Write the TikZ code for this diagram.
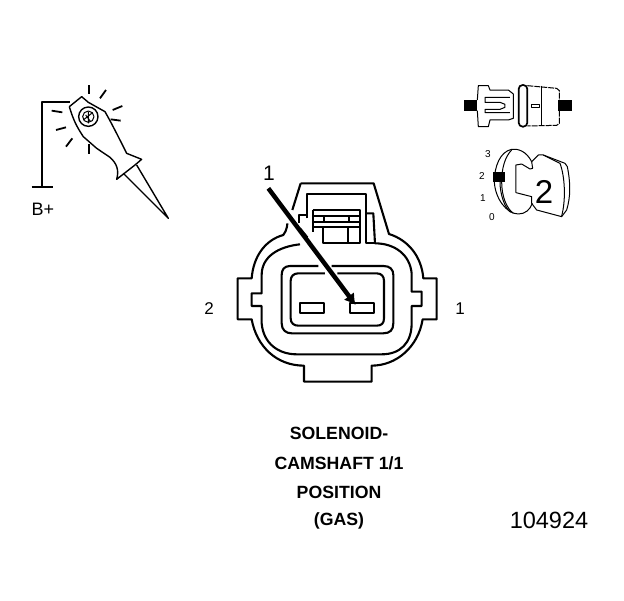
\documentclass[tikz,border=0pt]{standalone}
\usepackage{fontspec}
\usetikzlibrary{arrows.meta}
\setmainfont{Liberation Sans}
\tikzset{ConLine/.style={line width=2.1pt, line join=round},
  ThinLine/.style={line width=1.4pt, line join=round},
  IconLine/.style={line width=1pt, line join=round},
  LabelStyle/.style={inner sep=0pt, font=\fontsize{18}{18}\selectfont},
  TitleStyle/.style={inner sep=0pt, font=\fontsize{17.7}{17.7}\selectfont\bfseries},
  TickStyle/.style={inner sep=0pt, font=\fontsize{10}{10}\selectfont}}
\begin{document}
\begin{tikzpicture}[x=1pt, y=-1pt]
  \useasboundingbox (0,0) rectangle (624,600);

  % probe
  \begin{scope}[shift={(20,70)}, x=0.3333pt, y=-0.3333pt]
    \draw[ThinLine, line width=1.8pt] (150,95) -- (65,95) -- (65,350);
    \draw[ThinLine, line width=1.8pt] (35,350) -- (100,350);
    \draw[ThinLine] (148,110) -- (185,80) -- (205,97) -- (255,125)
      .. controls (275,160) and (300,210) .. (320,250)
      -- (365,268) -- (345,285) -- (290,328)
      .. controls (298,300) and (290,280) .. (270,262)
      -- (230,235) -- (190,200) .. controls (170,170) and (160,150) .. (148,110);
    \draw[ThinLine] (310,310) -- (445,445) -- (350,285);
    \draw[ThinLine] (205,140) circle (29);
    \draw[IconLine] (205,140) circle (17);
    \draw[IconLine] (190,150) -- (215,130) (197,135) -- (212,155) (205,125) -- (205,160);
    \foreach \xa/\ya/\xb/\yb in {207/45/207/72, 258/60/240/85, 307/108/278/120,
      302/152/272/148, 127/127/95/122, 138/172/108/180, 157/205/138/230, 207/222/207/252}
      \draw[line width=1.8pt] (\xa,\ya) -- (\xb,\yb);
  \end{scope}
  \node[LabelStyle] (bplus) at (43,209) {B+};

  % connector views
  \begin{scope}[shift={(450,70)}, x=0.3333pt, y=-0.3333pt]
    \fill[black] (42,90) rectangle (82,122);
    \fill[black] (325,90) rectangle (365,122);
    \draw[IconLine] (82,90) -- (85,47) -- (115,47) -- (120,60) -- (175,60) -- (190,72)
      -- (190,145) -- (175,150) -- (120,150) -- (115,170) -- (85,170) -- (82,122);
    \draw[IconLine] (180,82) -- (105,82) -- (105,97) -- (150,97) -- (165,103) -- (165,112)
      -- (150,118) -- (105,118) -- (105,128) -- (180,128);
    \draw[line width=1.7pt, rounded corners=4pt] (206,45) rectangle (232,170);
    \draw[IconLine, dash pattern=on 6pt off 1pt] (232,47) -- (320,55) -- (328,62) -- (328,90);
    \draw[IconLine, dash pattern=on 6pt off 1pt] (328,122) -- (328,160) -- (320,166) -- (232,168);
    \draw[IconLine] (275,47) -- (275,165);
    \draw[IconLine] (245,103) rectangle (270,112);
    % key
    \draw[IconLine] (245,275) .. controls (230,245) and (205,235) .. (185,238)
      .. controls (150,245) and (133,290) .. (133,335)
      .. controls (135,385) and (170,432) .. (205,432)
      .. controls (225,432) and (240,420) .. (247,400);
    \draw[IconLine] (185,240) .. controls (165,260) and (155,295) .. (155,335)
      .. controls (155,380) and (170,415) .. (190,430);
    \draw[IconLine] (150,335) .. controls (150,375) and (165,415) .. (182,427);
    \draw[IconLine] (198,285) -- (198,368) -- (245,380) -- (245,400) -- (260,420) -- (335,440)
      -- (350,420) .. controls (362,380) and (362,340) .. (352,290) -- (345,280) -- (280,255)
      -- (265,255) -- (245,275) -- (248,295) -- (240,297) -- (215,282) -- cycle;
    \draw[IconLine] (280,255) -- (330,280) .. controls (345,320) and (348,390) .. (335,438);
    \fill[black] (130,307) rectangle (165,335);
  \end{scope}
  \node[inner sep=0pt, font=\fontsize{33}{33}\selectfont] (keynum) at (544,192) {2};
  \node[TickStyle] (tick3) at (488,154) {3};
  \node[TickStyle] (tick2) at (482,176) {2};
  \node[TickStyle] (tick1) at (483,198) {1};
  \node[TickStyle] (tick0) at (492,217) {0};

  % connector
  \begin{scope}[shift={(200,160)}, x=0.3333pt, y=-0.3333pt]
    \draw[ConLine] (302,70) -- (521,70) -- (567,222)
      .. controls (625,240) and (665,290) .. (670,355)
      -- (710,355) -- (710,478) -- (668,478)
      .. controls (655,560) and (590,617) .. (515,617)
      -- (515,665) -- (312,665) -- (312,617)
      .. controls (230,617) and (170,560) .. (155,478)
      -- (113,478) -- (113,355) -- (155,355)
      .. controls (160,290) and (195,240) .. (250,225)
      .. controls (262,210) and (262,190) .. (262,190);
    \draw[ConLine] (302,70) -- (277,150);
    \draw[ConLine] (300,253) .. controls (235,260) and (185,290) .. (185,345)
      -- (185,400) -- (155,400) -- (155,438) -- (185,438) -- (185,490)
      .. controls (190,550) and (235,583) .. (290,583) -- (545,583)
      .. controls (600,583) and (635,550) .. (635,490)
      -- (635,438) -- (665,438) -- (665,395) -- (635,395) -- (635,340)
      .. controls (630,285) and (585,250) .. (525,250) -- (520,160) -- (497,160);
    \draw[ConLine] (322,175) -- (322,103) -- (497,103) -- (497,250) -- (525,250);
    \draw[ConLine] (298,190) -- (298,165) -- (318,165);
    \draw[ConLine] (300,205) -- (322,232);
    % latch
    \draw[ConLine] (338,150) -- (480,150) -- (480,250) -- (370,250) -- (370,200);
    \draw[ConLine] (338,215) -- (338,150);
    \draw[ConLine] (338,167) -- (480,167) (338,185) -- (480,185) (338,202) -- (480,202);
    \draw[ConLine] (445,202) -- (445,250) (372,167) -- (372,185) (447,167) -- (447,185);
    % shells and contacts
    \draw[ConLine] (355,318) -- (270,318) .. controls (252,318) and (245,330) .. (245,345)
      -- (245,490) .. controls (245,510) and (258,520) .. (275,520) -- (550,520)
      .. controls (570,520) and (580,510) .. (580,490) -- (580,345)
      .. controls (580,328) and (570,318) .. (550,318) -- (395,318);
    \draw[ConLine] (375,340) -- (295,340) .. controls (280,340) and (272,350) .. (272,362)
      -- (272,475) .. controls (272,490) and (282,497) .. (295,497) -- (530,497)
      .. controls (545,497) and (552,490) .. (552,475) -- (552,362)
      .. controls (552,350) and (545,340) .. (530,340) -- (412,340);
    \draw[ConLine] (300,428) rectangle (373,458);
    \draw[ConLine] (450,428) rectangle (523,458);
    \coordinate (ArrowStart) at (205,85);
    \coordinate (ArrowEnd) at (467,435);
  \end{scope}
  \draw[line width=4.5pt, -{Latex[length=11pt,width=13pt]}] (ArrowStart) -- (ArrowEnd);

  \node[LabelStyle, font=\fontsize{21}{21}\selectfont] (pointer) at (269,173) {1};
  \node[LabelStyle, font=\fontsize{17}{17}\selectfont] (pintwo) at (209,309) {2};
  \node[LabelStyle, font=\fontsize{17}{17}\selectfont] (pinone) at (460,309) {1};

  \node[TitleStyle] (title1) at (339,433) {SOLENOID-};
  \node[TitleStyle] (title2) at (339,463) {CAMSHAFT 1/1};
  \node[TitleStyle] (title3) at (339,492) {POSITION};
  \node[TitleStyle] (title4) at (339,521) {(GAS)};
  \node[inner sep=0pt, font=\fontsize{23.5}{23.5}\selectfont] (partno) at (549,520) {104924};
\end{tikzpicture}
\end{document}
